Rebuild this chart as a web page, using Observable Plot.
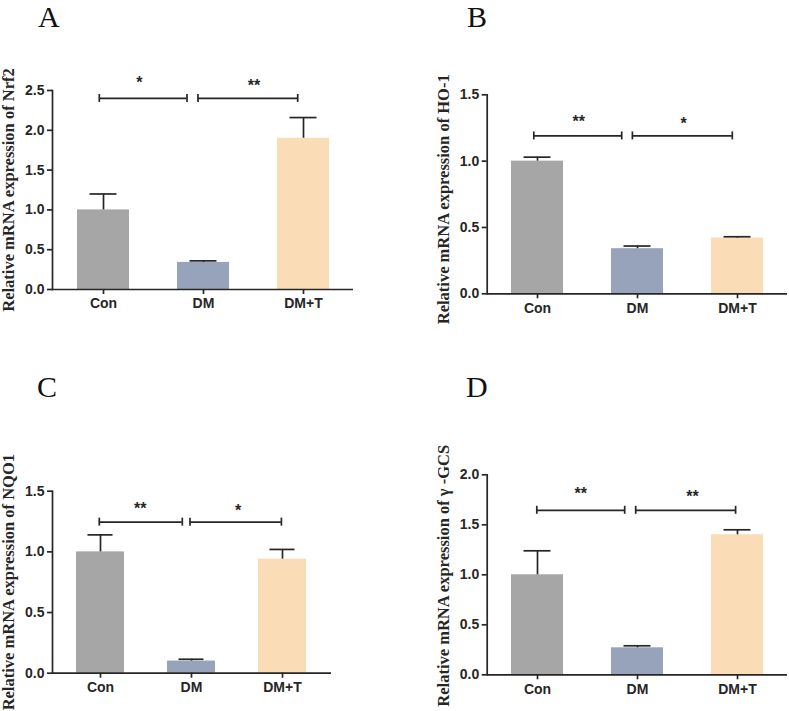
<!DOCTYPE html>
<html>
<head>
<meta charset="utf-8">
<script src="https://cdn.jsdelivr.net/npm/d3@7"></script>
<script src="https://cdn.jsdelivr.net/npm/@observablehq/plot@0.6"></script>
<style>
  body { margin: 0; background: #fff; }
  #fig { position: relative; width: 789px; height: 711px; overflow: hidden; background: #fff; }
  #fig svg { position: absolute; }
  .letter { position: absolute; font-family: "Liberation Serif", "Times New Roman", serif; font-size: 30px; line-height: 30px; color: #111; }
</style>
</head>
<body>
<div id="fig"></div>
<script>
// Treatment groups shared by all four panels
const groups = ["Con", "DM", "DM+T"];
const barColors = ["#a6a6a6", "#97a3bb", "#fadcb6"];

// Relative mRNA expression (mean and SEM) per gene
const nrf2Mean = [1.00, 0.34, 1.90];
const nrf2Err  = [0.20, 0.02, 0.26];
const ho1Mean  = [1.00, 0.34, 0.42];
const ho1Err   = [0.03, 0.02, 0.01];
const nqo1Mean = [1.00, 0.10, 0.94];
const nqo1Err  = [0.14, 0.015, 0.08];
const gcsMean  = [1.00, 0.27, 1.40];
const gcsErr   = [0.24, 0.02, 0.05];

// Axis ticks and titles
const ticksA = [0, 0.5, 1.0, 1.5, 2.0, 2.5];
const ticksB = [0, 0.5, 1.0, 1.5];
const ticksC = [0, 0.5, 1.0, 1.5];
const ticksD = [0, 0.5, 1.0, 1.5, 2.0];
const letters = ["A", "B", "C", "D"];
const titles = [
  "Relative mRNA expression of Nrf2",
  "Relative mRNA expression of HO-1",
  "Relative mRNA expression of NQO1",
  "Relative mRNA expression of \u03b3 -GCS"
];

// Significance comparisons
const sigA = [{from: "Con", to: "DM", y: 2.40, label: "*"},  {from: "DM", to: "DM+T", y: 2.40, label: "**"}];
const sigB = [{from: "Con", to: "DM", y: 1.19, label: "**"}, {from: "DM", to: "DM+T", y: 1.19, label: "*"}];
const sigC = [{from: "Con", to: "DM", y: 1.245, label: "**"}, {from: "DM", to: "DM+T", y: 1.245, label: "*"}];
const sigD = [{from: "Con", to: "DM", y: 1.645, label: "**"}, {from: "DM", to: "DM+T", y: 1.645, label: "**"}];

const panels = [
  {mean: nrf2Mean, err: nrf2Err, ticks: ticksA, sig: sigA},
  {mean: ho1Mean,  err: ho1Err,  ticks: ticksB, sig: sigB},
  {mean: nqo1Mean, err: nqo1Err, ticks: ticksC, sig: sigC},
  {mean: gcsMean,  err: gcsErr,  ticks: ticksD, sig: sigD}
];

// Page layout in absolute pixels: SVG box, axis extents, letter spot,
// and per-bracket offsets [start dx, end dx, star dx, star dy]
const layout = [
  {left: 0,   top: 0,   w: 394, h: 355, axisL: 52,    axisR: 353, yTop: 90,    y0: 289,
   pi: 0.48, po: 0.24, cap: 12.5, titleDx: -43.5, titleDy: 0, letterX: 38, letterY: 2,
   br: [[-4.2, -16.5, 35.8, -16], [-5.5, -5.8, 50.5, -13]]},
  {left: 394, top: 0,   w: 395, h: 355, axisL: 486.7, axisR: 787, yTop: 94.3,  y0: 293.3,
   pi: 0.48, po: 0.24, cap: 12.5, titleDx: -43.7, titleDy: 5, letterX: 467, letterY: 2,
   br: [[-3.7, -15.8, 41.3, -14], [-5.1, -5.2, 46.2, -12]]},
  {left: 0,   top: 355, w: 394, h: 356, axisL: 52,    axisR: 331, yTop: 490.7, y0: 672.7,
   pi: 0.4725, po: 0.264, cap: 11.5, titleDx: -43.5, titleDy: 0, letterX: 37, letterY: 372,
   br: [[-1.2, -9.2, 39.8, -13], [-1.5, -1.1, 46.5, -11]]},
  {left: 394, top: 355, w: 395, h: 356, axisL: 486.7, axisR: 787, yTop: 474.3, y0: 674.3,
   pi: 0.48, po: 0.24, cap: 12.5, titleDx: -43.7, titleDy: 1, letterX: 466, letterY: 372,
   br: [[-0.7, -12.8, 43.3, -16], [-1.8, -1.9, 54.9, -13.5]]}
];

const ink = "#262626";
const sans = "'Liberation Sans', Arial, sans-serif";
const serif = "'Liberation Serif', 'Times New Roman', serif";
const fig = document.getElementById("fig");

panels.forEach((p, i) => {
  const L = layout[i];
  const data = groups.map((g, j) => ({group: g, mean: p.mean[j], err: p.err[j]}));
  const ml = L.axisL - L.left;
  const mr = L.left + L.w - L.axisR;
  const mt = L.yTop - L.top;
  const mb = L.top + L.h - L.y0;
  const xOpts = {type: "band", domain: groups, range: [ml, L.w - mr], paddingInner: L.pi, paddingOuter: L.po};
  const bw = Plot.scale({x: xOpts}).bandwidth;
  const yMax = p.ticks[p.ticks.length - 1];

  const bracketMarks = p.sig.flatMap((s, k) => {
    const [d1, d2, ds, dys] = L.br[k];
    return [
      Plot.ruleY([s], {x1: "from", x2: "to", y: "y", insetLeft: bw / 2 + d1, insetRight: bw / 2 - d2, stroke: ink, strokeWidth: 1.7}),
      Plot.ruleX([s], {x: "from", y1: "y", y2: "y", dx: d1, insetTop: -4, insetBottom: -4, stroke: ink, strokeWidth: 1.7}),
      Plot.ruleX([s], {x: "to", y1: "y", y2: "y", dx: d2, insetTop: -4, insetBottom: -4, stroke: ink, strokeWidth: 1.7}),
      Plot.text([s], {x: "from", y: "y", text: "label", dx: ds, dy: dys, fontSize: 16, fontWeight: "bold", fontFamily: sans, fill: ink})
    ];
  });

  const svg = Plot.plot({
    width: L.w, height: L.h,
    marginLeft: ml, marginRight: mr, marginTop: mt, marginBottom: mb,
    style: {background: "none", overflow: "visible", fontFamily: sans, fontSize: "14px", fontWeight: "bold", color: ink},
    x: {...xOpts, axis: null},
    y: {domain: [0, yMax], axis: null},
    color: {domain: groups, range: barColors},
    marks: [
      Plot.barY(data, {x: "group", y: "mean", fill: "group"}),
      Plot.ruleX(data, {x: "group", y1: "mean", y2: d => d.mean + d.err, stroke: ink, strokeWidth: 1.7}),
      Plot.tickY(data, {x: "group", y: d => d.mean + d.err, insetLeft: L.cap, insetRight: L.cap, stroke: ink, strokeWidth: 1.7}),
      Plot.frame({anchor: "left", stroke: ink, strokeWidth: 1.7}),
      Plot.ruleY([0], {stroke: ink, strokeWidth: 1.7}),
      Plot.axisY({ticks: p.ticks, tickFormat: ".1f", tickSize: 5, tickPadding: 3, fontSize: 14, fontWeight: "bold", label: null, strokeWidth: 1.7}),
      Plot.axisX({tickSize: 5, tickPadding: 4, fontSize: 14, fontWeight: "bold", label: null, strokeWidth: 1.7}),
      ...bracketMarks,
      Plot.text([titles[i]], {text: d => d, frameAnchor: "left", textAnchor: "middle", rotate: -90, dx: L.titleDx, dy: L.titleDy,
        fontFamily: serif, fontSize: 16.5, fontWeight: "bold", fill: ink})
    ]
  });
  svg.style.left = L.left + "px";
  svg.style.top = L.top + "px";
  fig.appendChild(svg);

  const letter = document.createElement("div");
  letter.className = "letter";
  letter.textContent = letters[i];
  letter.style.left = L.letterX + "px";
  letter.style.top = L.letterY + "px";
  fig.appendChild(letter);
});
</script>
</body>
</html>
